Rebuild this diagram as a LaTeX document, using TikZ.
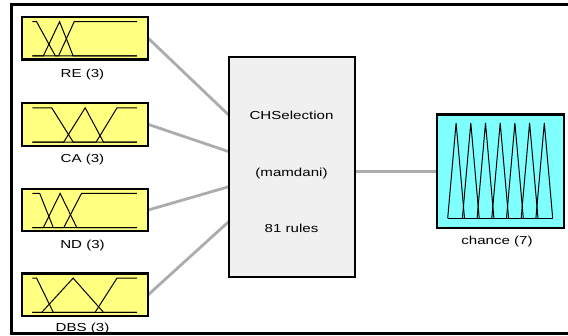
\documentclass[tikz,border=0pt]{standalone}
\usepackage{fontspec}
\setmainfont{Liberation Sans}
\usepackage{graphicx}
\usetikzlibrary{calc}

\definecolor{mfyellow}{RGB}{255,255,128}
\definecolor{mfcyan}{RGB}{128,255,255}
\definecolor{rulegray}{RGB}{240,240,240}
\definecolor{wiregray}{RGB}{172,172,172}

% wide screen-font look
\newcommand{\wtext}[1]{\scalebox{1.3}[1]{\fontsize{11.6}{14}\selectfont #1}}

% three membership functions of an input variable, drawn in a unit plot box
% #1 node, #2,#3 falling shoulder, #4,#5,#6 triangle, #7,#8 rising shoulder
\newcommand{\threemfs}[8]{%
  \begin{scope}[shift={($(#1.south west)+(10.5,-3.7)$)}, x=104.5pt, y=34.2pt]
    \draw[mfline] (0,1) -- (#2,1) -- (#3,0) -- (1,0);
    \draw[mfline] (0,0) -- (#4,0) -- (#5,1) -- (#6,0) -- (1,0);
    \draw[mfline] (0,0) -- (#7,0) -- (#8,1) -- (1,1);
  \end{scope}}

\begin{document}
\begin{tikzpicture}[x=1pt, y=-1pt,
  box/.style={draw=black, line width=2.3pt, inner sep=0pt, outer sep=0pt},
  invar/.style={box, fill=mfyellow, minimum width=126.4pt, minimum height=42.6pt},
  outvar/.style={box, fill=mfcyan, minimum width=127pt, minimum height=113.7pt},
  rulebox/.style={box, fill=rulegray, minimum width=126pt, minimum height=219.4pt},
  lbl/.style={anchor=base, inner sep=0pt, text=black},
  conn/.style={draw=wiregray, line width=2.8pt},
  mfline/.style={draw=black, line width=1pt, line join=miter},
  frameline/.style={draw=black, line width=2.5pt}]

\useasboundingbox (0,0) rectangle (568,335);

% blocks
\node[invar] (re)  at (85.1,38.3)  {};
\node[invar] (ca)  at (85.1,124.4) {};
\node[invar] (nd)  at (85.1,210)   {};
\node[invar] (dbs) at (85.1,294.7) {};
\node[rulebox] (chs) at (291.7,167) {};
\node[outvar] (out) at (500.5,171.3) {};

% wiring between the blocks
\draw[conn] (re.east)  -- ($(chs.north west)!0.263!(chs.south west)$);
\draw[conn] (ca.east)  -- ($(chs.north west)!0.430!(chs.south west)$);
\draw[conn] (nd.east)  -- ($(chs.north west)!0.590!(chs.south west)$);
\draw[conn] (dbs.east) -- ($(chs.north west)!0.749!(chs.south west)$);
\draw[conn] (out.west) -- (out.west -| chs.east);

% redraw blocks on top of the wire ends
\node[invar] (rebox)  at (re)  {};
\node[invar] (cabox)  at (ca)  {};
\node[invar] (ndbox)  at (nd)  {};
\node[invar] (dbsbox) at (dbs) {};
\node[rulebox] (chsbox) at (chs) {};
\node[outvar] (outbox) at (out) {};

% input membership functions
\threemfs{re}{0.04}{0.22}{0.105}{0.26}{0.39}{0.25}{0.40}
\threemfs{ca}{0.185}{0.39}{0.30}{0.505}{0.68}{0.61}{0.81}
\threemfs{nd}{0.07}{0.20}{0.105}{0.265}{0.425}{0.30}{0.47}
\threemfs{dbs}{0.04}{0.20}{0.09}{0.39}{0.68}{0.60}{0.81}

% output membership functions: seven triangles
\begin{scope}[shift={($(out.south west)+(10.7,-9.9)$)}, x=105pt, y=95.3pt]
  \draw[mfline] (0,0) -- (1,0);
  \foreach \p in {0.08,0.22,0.36,0.50,0.64,0.78,0.92}
    \draw[mfline] ({\p-0.08},0) -- (\p,1) -- ({\p+0.08},0);
\end{scope}

% labels
\node[lbl] (relbl)  at (82.5,77)    {\wtext{RE (3)}};
\node[lbl] (calbl)  at (82.5,162.5) {\wtext{CA (3)}};
\node[lbl] (ndlbl)  at (82.5,248)   {\wtext{ND (3)}};
\node[lbl] (dbslbl) at (82.5,331.5) {\wtext{DBS (3)}};
\node[lbl] (outlbl) at (497,244)    {\wtext{chance (7)}};

\node[lbl] (chsname)  at (291.5,119.3) {\wtext{CHSelection}};
\node[lbl] (chstype)  at (291.5,176)   {\wtext{(mamdani)}};
\node[lbl] (chsrules) at (291.5,232.7) {\wtext{81 rules}};

% window frame
\draw[frameline] (568,4.5) -- (11.5,4.5) -- (11.5,333.5) -- (568,333.5);

\end{tikzpicture}
\end{document}
